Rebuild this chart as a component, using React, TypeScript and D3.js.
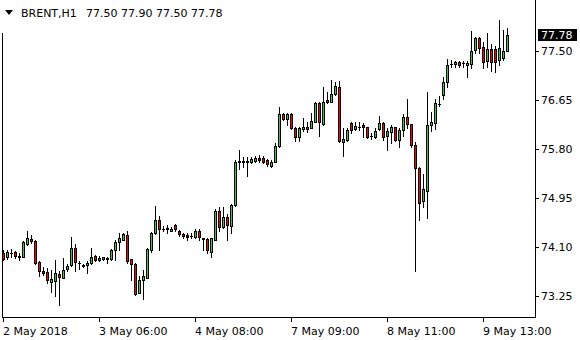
import React from "react";
import * as d3 from "d3";

const opens = [74.00,73.93,73.99,74.01,73.92,73.93,74.16,74.24,74.20,73.84,73.69,73.66,73.50,73.51,73.64,73.57,73.71,73.78,74.08,73.82,73.78,73.78,73.82,73.94,73.88,73.90,73.91,73.89,74.04,74.19,74.23,74.31,73.89,73.80,73.31,73.53,73.57,74.04,74.34,74.56,74.42,74.42,74.38,74.48,74.38,74.33,74.31,74.29,74.27,74.38,74.25,74.24,74.02,74.23,74.73,74.45,74.62,74.47,74.82,75.57,75.59,75.57,75.57,75.60,75.64,75.64,75.61,75.51,75.58,75.85,76.41,76.32,76.41,76.16,76.01,76.15,76.18,76.17,76.27,76.59,76.24,76.65,76.62,76.75,76.88,75.93,75.96,76.25,76.15,76.19,76.22,76.18,76.02,76.01,76.14,76.25,76.03,76.10,76.18,75.95,76.13,76.35,76.23,75.87,75.47,74.89,75.08,76.22,76.25,76.58,76.73,76.97,77.27,77.27,77.31,77.29,77.26,77.27,77.51,77.72,77.57,77.32,77.53,77.54,77.34,77.37,77.50];
const highs = [74.05,74.05,74.07,74.03,73.99,74.20,74.38,74.31,74.22,73.85,73.76,73.74,73.70,73.87,73.69,73.91,73.80,74.28,74.16,73.86,73.80,73.86,74.08,73.96,73.94,73.93,73.92,74.06,74.22,74.35,74.35,74.38,73.90,73.82,73.60,73.70,74.08,74.36,74.81,74.63,74.46,74.48,74.44,74.50,74.39,74.35,74.35,74.34,74.41,74.41,74.26,74.25,74.26,74.76,74.79,74.79,74.68,74.84,75.61,75.78,75.66,75.66,75.66,75.68,75.70,75.67,75.62,75.61,75.90,76.52,76.43,76.42,76.42,76.18,76.19,76.33,76.26,76.42,76.62,76.62,76.88,76.79,76.99,76.96,76.98,76.16,76.17,76.26,76.27,76.27,76.25,76.19,76.07,76.16,76.37,76.26,76.16,76.22,76.19,76.16,76.41,76.66,76.24,75.93,75.48,75.37,76.79,76.45,76.67,76.72,77.05,77.36,77.34,77.33,77.32,77.33,77.32,77.84,77.75,77.75,77.66,77.81,77.63,77.59,78.04,77.86,77.90];
const lows = [73.87,73.90,73.93,73.91,73.87,73.92,74.13,74.17,73.80,73.60,73.61,73.48,73.32,73.25,73.10,73.56,73.69,73.77,73.69,73.71,73.75,73.65,73.80,73.85,73.85,73.87,73.82,73.87,73.87,74.05,74.22,73.82,73.53,73.27,73.30,73.19,73.56,74.02,74.33,74.04,74.37,74.34,74.37,74.38,74.29,74.25,74.23,74.25,74.25,74.23,74.04,74.00,73.93,74.22,74.38,74.43,74.22,74.35,74.81,75.45,75.48,75.34,75.55,75.58,75.58,75.56,75.51,75.48,75.57,75.84,76.30,76.22,76.15,75.94,75.94,76.12,76.10,76.16,76.26,76.03,76.22,76.60,76.61,76.74,75.93,75.68,75.94,76.08,76.13,76.13,76.01,75.99,75.97,75.99,76.13,75.96,75.78,75.91,75.94,75.83,76.03,76.16,75.84,73.69,74.56,74.80,74.60,76.11,76.15,76.55,76.67,76.88,77.22,77.23,77.23,77.23,77.05,77.21,77.47,77.46,77.21,77.23,77.15,77.14,77.25,77.35,77.50];
const closes = [73.90,74.01,74.00,73.94,73.95,74.18,74.25,74.21,73.82,73.69,73.65,73.52,73.55,73.65,73.58,73.70,73.77,74.08,73.84,73.83,73.77,73.83,73.92,73.88,73.91,73.92,73.89,74.05,74.18,74.26,74.32,73.85,73.80,73.28,73.53,73.60,74.06,74.34,74.56,74.41,74.42,74.43,74.41,74.41,74.32,74.29,74.27,74.29,74.38,74.27,74.24,74.04,74.25,74.73,74.45,74.62,74.48,74.83,75.57,75.59,75.57,75.60,75.63,75.65,75.61,75.57,75.54,75.58,75.85,76.41,76.32,76.41,76.16,76.00,76.16,76.19,76.15,76.29,76.59,76.26,76.62,76.62,76.75,76.89,75.94,75.97,76.13,76.13,76.20,76.19,76.18,76.01,76.03,76.11,76.25,76.01,76.11,76.18,75.95,76.13,76.35,76.23,75.87,75.47,74.87,75.10,76.22,76.26,76.59,76.58,76.96,77.26,77.28,77.31,77.26,77.29,77.30,77.50,77.72,77.55,77.31,77.54,77.31,77.31,77.55,77.50,77.78];

const priceTicks = [77.50, 76.65, 75.80, 74.95, 74.10, 73.25];
const timeTickBars = [0, 24, 48, 72, 96, 120];
const timeTickLabels = ["2 May 2018", "3 May 06:00", "4 May 08:00", "7 May 09:00", "8 May 11:00", "9 May 13:00"];
const symbolTitle = "BRENT,H1";
const lastOHLC = [77.50, 77.90, 77.50, 77.78];

const BULL = "#32cd32";
const BEAR = "#ff0000";
const FONT = "DejaVu Sans";

export default function App() {
  const n = closes.length;
  const x = d3.scaleLinear().domain([0, n - 1]).range([3, 3 + 4 * (n - 1)]);
  const y = d3.scaleLinear().domain([73.25, 77.5]).range([296, 51]);
  const left = 2, right = 535, bottom = 317;
  const lastClose = closes[n - 1];
  const ly = Math.round(y(lastClose));

  const candles = d3.range(n).map((i) => {
    const cx = Math.round(x(i));
    const o = opens[i], c = closes[i];
    const hy = Math.round(y(highs[i]));
    const lwy = Math.round(y(lows[i]));
    const top = Math.round(y(Math.max(o, c)));
    const bot = Math.round(y(Math.min(o, c)));
    const bull = c >= o;
    return (
      <g key={i}>
        <rect x={cx} y={hy} width={1} height={lwy - hy + 1} fill="#000" />
        <rect x={cx - 1} y={top} width={3} height={bot - top + 1} fill="#000" />
        {bot - top >= 2 && (
          <rect x={cx} y={top + 1} width={1} height={bot - top - 1} fill={bull ? BULL : BEAR} />
        )}
      </g>
    );
  });

  return (
    <div style={{ position: "absolute", left: 0, top: 0 }}>
      <svg width={580} height={340} style={{ display: "block", background: "#fff" }} shapeRendering="crispEdges">
        <rect x={0} y={0} width={580} height={340} fill="#fff" />
        {/* frame */}
        <rect x={left} y={33} width={1} height={bottom - 33 + 1} fill="#000" />
        <rect x={right} y={0} width={1} height={bottom + 1} fill="#000" />
        <rect x={left} y={bottom} width={right - left + 1} height={1} fill="#000" />
        {candles}
        {/* price axis */}
        {priceTicks.map((p) => {
          const ty = Math.round(y(p));
          return (
            <g key={p}>
              <rect x={right + 1} y={ty} width={3} height={1} fill="#000" />
              <text x={541} y={ty + 4} fontFamily={FONT} fontSize={11} fill="#000" shapeRendering="auto">
                {p.toFixed(2)}
              </text>
            </g>
          );
        })}
        <rect x={538} y={ly - 6} width={39} height={12} fill="#000" />
        <text x={541} y={ly + 4} fontFamily={FONT} fontSize={11} fill="#fff">
          {lastClose.toFixed(2)}
        </text>
        {/* time axis */}
        {timeTickBars.map((b, k) => {
          const tx = Math.round(x(b));
          return (
            <g key={b}>
              <rect x={tx} y={bottom + 1} width={1} height={4} fill="#000" />
              <text x={tx} y={335} fontFamily={FONT} fontSize={11} fill="#000">
                {timeTickLabels[k]}
              </text>
            </g>
          );
        })}
        {/* title */}
        <path d="M5,10 L13,10 L9,15 Z" fill="#000" shapeRendering="auto" />
        <text x={21} y={17} fontFamily={FONT} fontSize={11} fill="#000">
          {symbolTitle}
        </text>
        <text x={86} y={17} fontFamily={FONT} fontSize={11} fill="#000">
          {lastOHLC.map((v) => v.toFixed(2)).join(" ")}
        </text>
      </svg>
    </div>
  );
}
